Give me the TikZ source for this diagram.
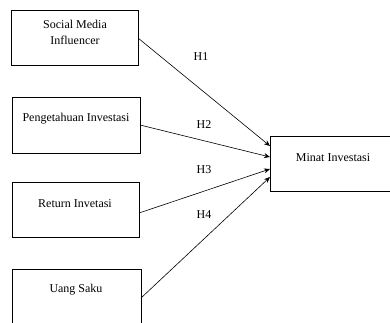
\documentclass[tikz,border=0pt]{standalone}
\usepackage{fontspec}
\setmainfont{Liberation Serif}
\usetikzlibrary{arrows.meta}
\begin{document}
\begin{tikzpicture}[x=1pt,y=-1pt,
  box/.style={draw,line width=0.7pt,inner sep=0pt,anchor=north west},
  lbl/.style={font=\fontsize{12}{16}\selectfont,align=center,inner sep=0pt},
  hyp/.style={font=\fontsize{12}{14}\selectfont,inner sep=0pt},
  conn/.style={line width=0.6pt,-{Stealth[length=6pt,width=5pt]}}]
\useasboundingbox (0,0) rectangle (390,322);
\begin{scope}
\clip (0,0) rectangle (390,322);
\node[box,minimum width=127pt,minimum height=55pt] (b1) at (11,10) {};
\node[box,minimum width=128pt,minimum height=56pt] (b2) at (12,97) {};
\node[box,minimum width=127pt,minimum height=55pt] (b3) at (12,182) {};
\node[box,minimum width=129pt,minimum height=58pt] (b4) at (12,269) {};
\node[box,minimum width=130pt,minimum height=55pt] (m) at (270,136) {};
\end{scope}
\node[lbl] (t1) at (75,32) {Social Media\\Influencer};
\node[lbl] (t2) at (76,119) {Pengetahuan Investasi};
\node[lbl] (t3) at (75,204) {Return Invetasi};
\node[lbl] (t4) at (76,290) {Uang Saku};
\node[lbl] (tm) at (333,158) {Minat Investasi};
\coordinate (s1) at (138,38);
\coordinate (s2) at (140,125);
\coordinate (s3) at (139,213);
\coordinate (s4) at (141,298);
\coordinate (e1) at (270,146);
\coordinate (e2) at (270,157);
\coordinate (e3) at (270,169);
\coordinate (e4) at (270,177);
\draw[conn] (s1) -- (e1);
\draw[conn] (s2) -- (e2);
\draw[conn] (s3) -- (e3);
\draw[conn] (s4) -- (e4);
\node[hyp] (h1) at (201,57) {H1};
\node[hyp] (h2) at (204,125) {H2};
\node[hyp] (h3) at (204,170) {H3};
\node[hyp] (h4) at (204,215) {H4};
\end{tikzpicture}
\end{document}
